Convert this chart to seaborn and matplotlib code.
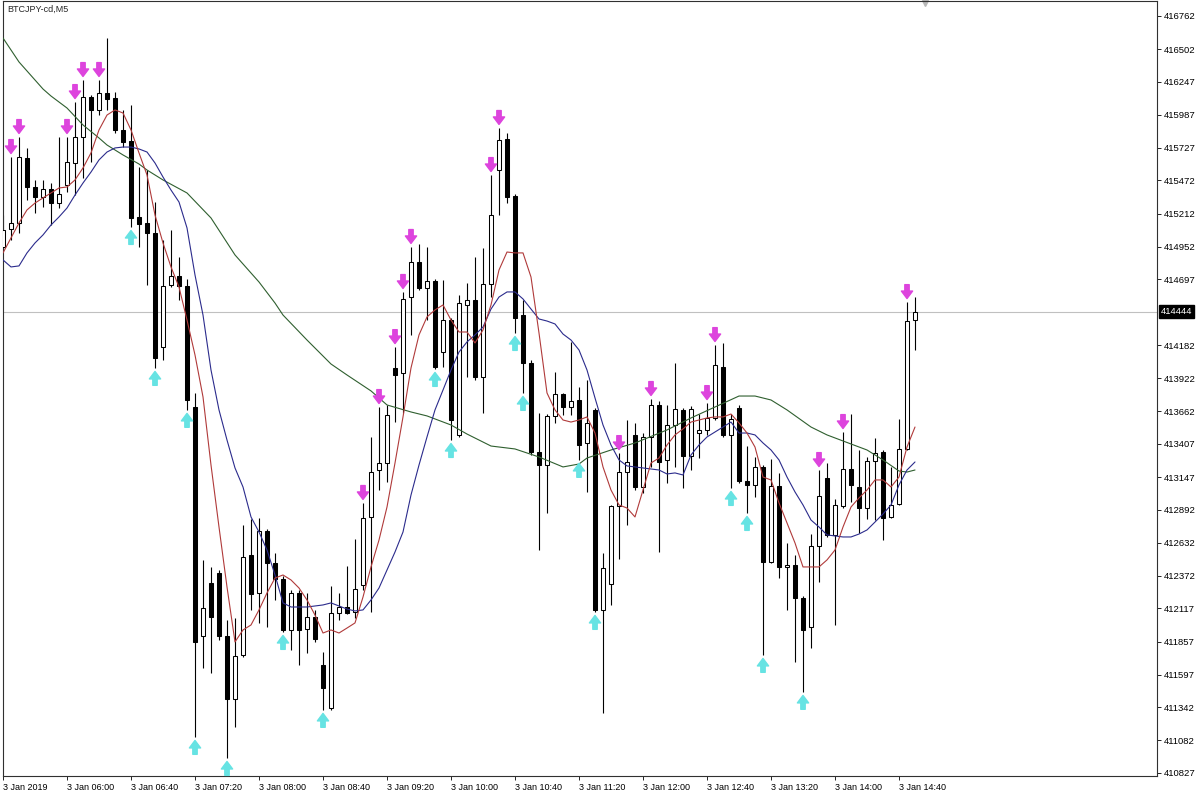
import matplotlib
matplotlib.use('Agg')
import matplotlib.pyplot as plt
import matplotlib.transforms as mtransforms
import numpy as np
import pandas as pd
import seaborn as sns

# BTCJPY-cd M5 candles, 3 Jan 2019 05:20 .. 14:50
opens = [414951, 415092, 415139, 415648, 415421, 415342, 415405, 415295, 415437, 415609,
         415813, 416126, 416025, 416158, 416119, 415868, 415782, 415186, 415139, 415060,
         414166, 414653, 414723, 414645, 413696, 411901, 412316, 412395, 411901, 411407,
         411752, 412536, 412238, 412724, 412473, 412348, 411948, 412238, 411956, 412050,
         411673, 411336, 412081, 412128, 412089, 412301, 412834, 413202, 413257, 414002,
         413963, 414558, 414833, 414629, 414684, 414127, 414378, 413477, 414496, 414535,
         413931, 414660, 415554, 415797, 415350, 414417, 414041, 413343, 413241, 413626,
         413798, 413696, 413751, 413414, 413673, 412105, 412308, 412920, 413186, 413477,
         413069, 413461, 413712, 413281, 413555, 413673, 413312, 413492, 413516, 413610,
         414010, 413477, 413688, 413116, 413085, 413226, 412481, 413077, 412442, 412457,
         412199, 411971, 412606, 413139, 412693, 412920, 413210, 413069, 412904, 413273,
         413343, 412834, 412936, 413367, 414378]
highs = [415201, 415656, 415813, 415727, 415476, 415476, 415452, 415813, 415813, 416087,
         416260, 416142, 416260, 416589, 416166, 416025, 416064, 415578, 415554, 415303,
         415005, 415084, 414872, 414700, 413806, 412497, 412442, 412418, 412026, 412042,
         412771, 412818, 412826, 412740, 412551, 412371, 412261, 412261, 412238, 412105,
         411775, 412293, 412238, 412450, 412661, 412944, 413461, 413696, 413712, 414166,
         414598, 414951, 414974, 414951, 414700, 414692, 414394, 414574, 414668, 414872,
         414943, 415515, 415884, 415844, 415366, 414535, 414065, 413649, 413641, 413970,
         413806, 414206, 413853, 413908, 413688, 412551, 412928, 413335, 413594, 413571,
         413492, 413759, 413743, 413712, 414041, 413688, 413704, 413641, 413727, 414182,
         414198, 413641, 413712, 413390, 413304, 413241, 413288, 413179, 412630, 412536,
         412214, 412700, 413202, 413257, 412975, 413500, 413641, 413359, 413304, 413453,
         413359, 413226, 413602, 414519, 414558]
lows = [414927, 415005, 415060, 415319, 415217, 415264, 415123, 415256, 415382, 415358,
        415491, 415617, 415985, 416025, 415844, 415734, 415107, 414951, 414653, 414002,
        414065, 414637, 414535, 413673, 411109, 411650, 411611, 411869, 410944, 411187,
        411736, 412105, 412003, 411971, 412183, 411932, 411791, 411673, 411767, 411854,
        411321, 411321, 412026, 412073, 412042, 412261, 412089, 413045, 413108, 413578,
        413649, 414261, 414613, 414378, 413994, 414010, 413437, 413461, 413931, 413908,
        413649, 414558, 415201, 415295, 414276, 413806, 413320, 412575, 412865, 413571,
        413633, 413633, 413281, 413030, 412089, 411297, 412144, 412504, 412771, 413045,
        413022, 413226, 412559, 413100, 413226, 413061, 413202, 413296, 413477, 413594,
        413461, 413061, 413100, 412865, 412990, 411752, 412473, 412355, 412105, 411697,
        411462, 411807, 412324, 412677, 411987, 412904, 412951, 412708, 412818, 412810,
        412653, 412826, 412928, 413359, 414143]
closes = [415084, 415139, 415656, 415421, 415342, 415405, 415295, 415366, 415617, 415813,
          416126, 416025, 416158, 416111, 415868, 415774, 415178, 415131, 415060, 414080,
          414645, 414723, 414645, 413751, 411854, 412120, 412050, 411901, 411407, 411744,
          412520, 412230, 412724, 412473, 412348, 411948, 412238, 411948, 412050, 411877,
          411493, 412081, 412128, 412081, 412269, 412826, 413186, 413257, 413633, 413947,
          414543, 414833, 414629, 414684, 414010, 414378, 413594, 414511, 414535, 413931,
          414660, 415201, 415789, 415342, 414394, 414041, 413343, 413241, 413626, 413798,
          413696, 413743, 413398, 413571, 412105, 412434, 412920, 413186, 413265, 413069,
          413461, 413712, 413265, 413555, 413680, 413312, 413680, 413516, 413610, 414025,
          413477, 413602, 413116, 413085, 413226, 412481, 413077, 412442, 412457, 412199,
          411948, 412606, 412998, 412693, 412928, 413210, 413085, 412904, 413273, 413335,
          412826, 412928, 413367, 414370, 414444]

# signal arrows (bar numbers)
down_arrows = [1, 2, 8, 9, 10, 12, 45, 47, 49, 50, 51, 61, 62, 77, 81, 88, 89, 102, 105, 113]
up_arrows = [16, 19, 23, 24, 28, 35, 40, 54, 56, 64, 65, 72, 74, 91, 93, 95, 100]

# moving averages as drawn on the chart
red_bars = [0] + list(range(2, 115))
red_ma = [414904, 415139, 415241, 415295, 415335, 415374, 415413, 415421, 415476, 415570,
          415688, 415868, 415985, 416025, 416001, 415868, 415688, 415515, 415201, 414982,
          414794, 414637, 414378, 414104, 413775, 413241, 412755, 412285, 411854, 411948,
          411987, 412105, 412238, 412355, 412379, 412340, 412277, 412183, 412065, 411924,
          411948, 411924, 411963, 412003, 412206, 412442, 412653, 412912, 413257, 413618,
          414002, 414261, 414402, 414457, 414496, 414378, 414284, 414284, 414198, 414300,
          414496, 414770, 414911, 414904, 414904, 414715, 414276, 413806, 413673, 413594,
          413578, 413594, 413618, 413492, 413226, 413045, 412928, 412904, 412834, 413045,
          413257, 413296, 413398, 413477, 413524, 413578, 413594, 413610, 413618, 413618,
          413641, 413571, 413492, 413382, 413147, 413124, 412944, 412787, 412630, 412442,
          412442, 412442, 412497, 412575, 412755, 412912, 412983, 413045, 413124, 413124,
          413069, 413147, 413382, 413539]
blue_bars = list(range(0, 115))
blue_ma = [414849, 414794, 414802, 414904, 414982, 415045, 415123, 415186, 415256, 415358,
           415452, 415538, 415633, 415695, 415727, 415734, 415734, 415719, 415695, 415609,
           415499, 415397, 415303, 415100, 414731, 414417, 413986, 413673, 413437, 413218,
           413069, 412834, 412716, 412575, 412379, 412160, 412128, 412128, 412128, 412136,
           412144, 412160, 412136, 412112, 412097, 412105, 412183, 412277, 412418, 412559,
           412716, 413006, 413241, 413461, 413673, 413829, 413986, 414127, 414206, 414261,
           414323, 414464, 414558, 414598, 414598, 414543, 414464, 414386, 414370, 414347,
           414268, 414221, 414143, 413986, 413767, 413555, 413398, 413281, 413234, 413226,
           413218, 413210, 413202, 413171, 413179, 413163, 413320, 413398, 413461, 413500,
           413539, 413578, 413492, 413492, 413477, 413414, 413359, 413281, 413147, 413030,
           412928, 412810, 412755, 412693, 412685, 412677, 412677, 412700, 412732, 412794,
           412857, 412928, 413085, 413202, 413265]
green_bars = [0, 2, 5, 6, 8, 10, 12, 13, 15, 17, 18, 20, 23, 26, 29, 32, 34, 35, 38, 41,
              43, 46, 48, 51, 53, 56, 58, 61, 64, 67, 70, 72, 73, 76, 79, 83, 86, 89, 92, 94,
              96, 98, 101, 103, 106, 108, 110, 112, 113, 114]
green_ma = [416589, 416401, 416189, 416134, 416040, 415907, 415805, 415750, 415672, 415601,
            415554, 415476, 415374, 415178, 414888, 414676, 414511, 414417, 414221, 414033,
            413947, 413822, 413712, 413657, 413626, 413555, 413484, 413390, 413367, 413304,
            413226, 413249, 413296, 413359, 413414, 413516, 413610, 413696, 413782, 413782,
            413751, 413673, 413539, 413477, 413406, 413359, 413281, 413194, 413186, 413202]

price_ticks = [416762, 416502, 416247, 415987, 415727, 415472, 415212, 414952, 414697,
               414182, 413922, 413662, 413407, 413147, 412892, 412632, 412372, 412117,
               411857, 411597, 411342, 411082, 410827]
time_labels = ['3 Jan 2019', '3 Jan 06:00', '3 Jan 06:40', '3 Jan 07:20', '3 Jan 08:00',
               '3 Jan 08:40', '3 Jan 09:20', '3 Jan 10:00', '3 Jan 10:40', '3 Jan 11:20',
               '3 Jan 12:00', '3 Jan 12:40', '3 Jan 13:20', '3 Jan 14:00', '3 Jan 14:40']
last_price = 414444

sns.set_style('white')
plt.rcParams['font.family'] = ['Liberation Sans', 'DejaVu Sans']

W, H = 1202, 800
fig = plt.figure(figsize=(W / 100, H / 100), dpi=100)
ax = fig.add_axes([2.5 / W, 1 - 776 / H, (1157 - 2.5) / W, 775 / H])

x = np.arange(len(opens))
o = np.array(opens)
c = np.array(closes)
bull = c >= o

# current price line
ax.axhline(last_price, color='#c0c0c0', lw=0.8, zorder=0)

# candles
ax.vlines(x, lows, highs, color='black', lw=0.8, zorder=2)
ax.bar(x[bull], (c - o)[bull], bottom=o[bull], width=0.5, color='white',
       edgecolor='black', linewidth=0.75, zorder=3)
ax.bar(x[~bull], (c - o)[~bull], bottom=o[~bull], width=0.5, color='black',
       edgecolor='black', linewidth=0.75, zorder=3)

# moving averages
sns.lineplot(data=pd.DataFrame({'bar': green_bars, 'ma': green_ma}), x='bar', y='ma',
             ax=ax, color='#2f5f2f', lw=0.8, estimator=None, zorder=4)
sns.lineplot(data=pd.DataFrame({'bar': blue_bars, 'ma': blue_ma}), x='bar', y='ma',
             ax=ax, color='#2b2b8c', lw=0.8, estimator=None, zorder=4)
sns.lineplot(data=pd.DataFrame({'bar': red_bars, 'ma': red_ma}), x='bar', y='ma',
             ax=ax, color='#b03a3a', lw=0.8, estimator=None, zorder=4)

# signal arrows
tip_dn = mtransforms.offset_copy(ax.transData, fig=fig, x=0, y=2.5, units='points')
tail_dn = mtransforms.offset_copy(ax.transData, fig=fig, x=0, y=12.5, units='points')
tip_up = mtransforms.offset_copy(ax.transData, fig=fig, x=0, y=-2.5, units='points')
tail_up = mtransforms.offset_copy(ax.transData, fig=fig, x=0, y=-12.5, units='points')
arrow_style = 'simple,head_length=0.6,head_width=0.9,tail_width=0.35'
for i in down_arrows:
    ax.annotate('', xy=(i, highs[i]), xycoords=tip_dn, xytext=(i, highs[i]), textcoords=tail_dn,
                arrowprops=dict(arrowstyle=arrow_style, color='#dd44dd', shrinkA=0, shrinkB=0,
                                mutation_scale=9), zorder=5)
for i in up_arrows:
    ax.annotate('', xy=(i, lows[i]), xycoords=tip_up, xytext=(i, lows[i]), textcoords=tail_up,
                arrowprops=dict(arrowstyle=arrow_style, color='#66e3e3', shrinkA=0, shrinkB=0,
                                mutation_scale=9), zorder=5)

ax.set_xlim(-0.0625, 144.25)
ax.set_ylim(410803, 416879)
ax.set_xlabel('')
ax.set_ylabel('')

ax.yaxis.tick_right()
ax.set_yticks(price_ticks)
ax.set_yticklabels([str(v) for v in price_ticks])
ax.tick_params(axis='y', direction='out', length=3, width=0.6, pad=2, labelsize=6.8,
               colors='black', right=True, left=False)

ax.set_xticks(range(0, 8 * len(time_labels), 8))
ax.set_xticklabels(time_labels)
for lab in ax.get_xticklabels():
    lab.set_ha('left')
ax.tick_params(axis='x', direction='out', length=3, width=0.6, pad=2, labelsize=6.5,
               colors='black', bottom=True)

for sp in ax.spines.values():
    sp.set_color('#303030')
    sp.set_linewidth(0.8)

# last price box on the scale
bt = mtransforms.blended_transform_factory(ax.transAxes, ax.transData)
ax.text(1.0035, last_price, str(last_price), transform=bt, ha='left', va='center',
        color='white', fontsize=6.8,
        bbox=dict(boxstyle='square,pad=0.2', fc='black', ec='black'))

# chart shift marker and symbol title
ax.plot([0.799], [0.997], marker='v', color='#b8b8b8', ms=5, transform=ax.transAxes,
        clip_on=False)
fig.text(7 / W, 1 - 9.5 / H, 'BTCJPY-cd,M5', fontsize=6.5, ha='left', va='center')

fig.savefig('out.png', dpi=100)
